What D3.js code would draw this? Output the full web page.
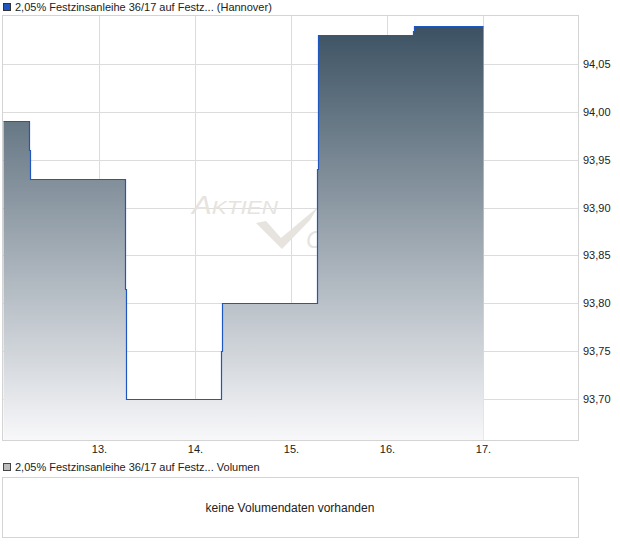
<!DOCTYPE html>
<html>
<head>
<meta charset="utf-8">
<script src="https://cdn.jsdelivr.net/npm/d3@7"></script>
<style>
  html, body { margin: 0; padding: 0; background: #fff; }
  svg { display: block; font-family: "Liberation Sans", Arial, sans-serif; }
</style>
</head>
<body>
<svg id="chart" width="620" height="546"></svg>
<script>
// ---- data ----
const seriesName = "2,05% Festzinsanleihe 36/17 auf Festz... (Hannover)";
const volumeName = "2,05% Festzinsanleihe 36/17 auf Festz... Volumen";
const noVolumeText = "keine Volumendaten vorhanden";
// timestamps: [day, hour, minute] in the month
const times = [
  [12, 0, 0], [12, 6, 30], [12, 6, 45],
  [13, 6, 30], [13, 6, 45],
  [14, 6, 30], [14, 6, 45],
  [15, 6, 30], [15, 6, 45],
  [16, 6, 30], [16, 6, 45],
  [17, 0, 0]
];
const prices = [93.99, 93.96, 93.93, 93.815, 93.70, 93.75, 93.80, 93.94, 94.08, 94.085, 94.09, 94.09];
const xTickDays = [13, 14, 15, 16, 17];
const yTicks = [93.70, 93.75, 93.80, 93.85, 93.90, 93.95, 94.00, 94.05];
const yDomain = [93.6572, 94.1002];

// ---- layout ----
const svg = d3.select("#chart");
const pL = 3, pR = 578, pT = 16, pB = 440;
const toDate = t => new Date(2017, 5, t[0], t[1], t[2]);
const data = times.map((t, i) => ({ date: toDate(t), value: prices[i] }));

const x = d3.scaleTime()
  .domain([new Date(2017, 5, 12), new Date(2017, 5, 18)])
  .range([pL, pL + 576]);
const y = d3.scaleLinear().domain(yDomain).range([pB, pT]);

// legend top
svg.append("rect").attr("x", 3.5).attr("y", 3.5).attr("width", 7).attr("height", 7)
  .attr("fill", "#1f56c0").attr("stroke", "#333").attr("stroke-width", 1);
svg.append("text").attr("x", 15).attr("y", 11).attr("font-size", 11).attr("fill", "#222")
  .text(seriesName);

// frame
svg.append("rect").attr("x", pL - 0.5).attr("y", pT - 0.5)
  .attr("width", pR - pL + 1).attr("height", pB - pT + 1)
  .attr("fill", "#fff").attr("stroke", "#d4d4d4");

// grid
const grid = svg.append("g").attr("stroke", "#dcdcdc").attr("stroke-width", 1);
yTicks.forEach(v => {
  const yy = Math.round(y(v)) + 0.5;
  grid.append("line").attr("x1", pL).attr("x2", pR).attr("y1", yy).attr("y2", yy);
});
xTickDays.forEach(d => {
  const xx = Math.round(x(new Date(2017, 5, d))) + 0.5;
  grid.append("line").attr("x1", xx).attr("x2", xx).attr("y1", pT).attr("y2", pB);
});

// watermark
const wm = svg.append("g").attr("fill", "#e7e3de");
const wt = wm.append("text").attr("x", 192).attr("y", 214).attr("font-style", "italic")
  .attr("textLength", 86).attr("lengthAdjust", "spacingAndGlyphs");
wt.append("tspan").attr("font-size", 25).text("A");
wt.append("tspan").attr("font-size", 19).text("KTIEN");
wm.append("path").attr("d", "M256,223 L266,221 L281,238 L318,207 L310,220 L282,249 Z");
wm.append("text").attr("x", 306).attr("y", 248).attr("font-size", 24).attr("font-style", "italic")
  .text("CHECK");

// gradient
const defs = svg.append("defs");
const grad = defs.append("linearGradient").attr("id", "areaGrad")
  .attr("gradientUnits", "userSpaceOnUse")
  .attr("x1", 0).attr("x2", 0).attr("y1", y(d3.max(prices))).attr("y2", pB);
grad.append("stop").attr("offset", 0).attr("stop-color", "#3b5162");
grad.append("stop").attr("offset", 1).attr("stop-color", "#f8f8fa");

const area = d3.area().curve(d3.curveStepAfter)
  .x(d => Math.round(x(d.date)) + 0.5).y0(pB).y1(d => Math.round(y(d.value)) + 0.5);
const line = d3.line().curve(d3.curveStepAfter)
  .x(d => Math.round(x(d.date)) + 0.5).y(d => Math.round(y(d.value)) + 0.5);

svg.append("path").datum(data).attr("d", area).attr("fill", "url(#areaGrad)");
svg.append("path").datum(data).attr("d", line).attr("fill", "none")
  .attr("stroke", "#1f56c0").attr("stroke-width", 1.2);

// y axis labels (right, outside frame)
const fmt = d3.format(".2f");
yTicks.forEach(v => {
  svg.append("text").attr("x", 583).attr("y", y(v) + 4).attr("font-size", 11).attr("fill", "#222")
    .text(fmt(v).replace(".", ","));
});
// x axis labels
xTickDays.forEach(d => {
  svg.append("text").attr("x", x(new Date(2017, 5, d)) + 0.5).attr("y", 453)
    .attr("text-anchor", "middle").attr("font-size", 11).attr("fill", "#222")
    .text(d3.timeFormat("%-d")(new Date(2017, 5, d)) + ".");
});

// volume panel
svg.append("rect").attr("x", 3.5).attr("y", 463.5).attr("width", 7).attr("height", 7)
  .attr("fill", "#bdbdbd").attr("stroke", "#444").attr("stroke-width", 1);
svg.append("text").attr("x", 15).attr("y", 471).attr("font-size", 11).attr("fill", "#222")
  .text(volumeName);
svg.append("rect").attr("x", pL - 0.5).attr("y", 477.5)
  .attr("width", pR - pL + 1).attr("height", 60)
  .attr("fill", "#fff").attr("stroke", "#d4d4d4");
svg.append("text").attr("x", 290).attr("y", 512).attr("text-anchor", "middle")
  .attr("font-size", 12).attr("fill", "#222").text(noVolumeText);
</script>
</body>
</html>
